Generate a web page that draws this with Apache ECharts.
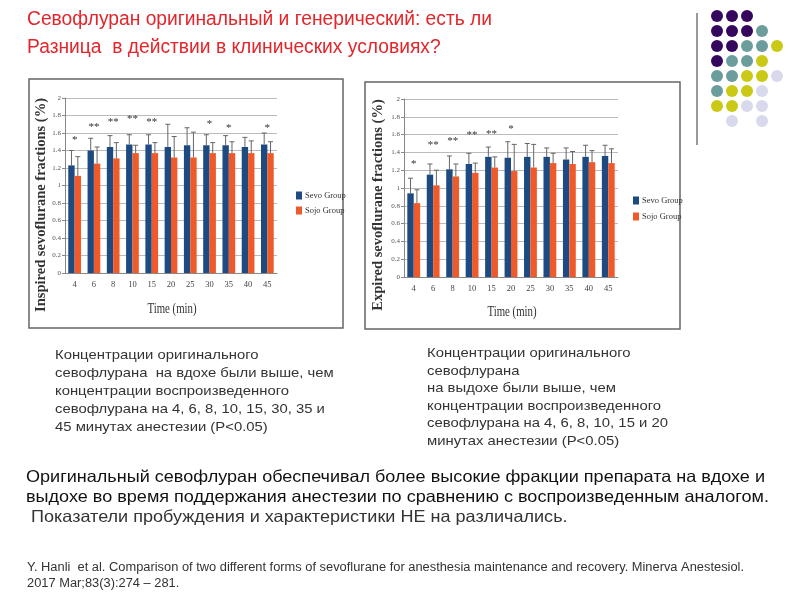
<!DOCTYPE html>
<html><head><meta charset="utf-8">
<script src="https://cdn.jsdelivr.net/npm/echarts@6/dist/echarts.min.js"></script>
<style>html,body{margin:0;padding:0;background:#fff}#c{width:800px;height:600px}</style>
</head><body><div id="c"></div>
<script>
// ---------- data ----------
const categories = ['4','6','8','10','15','20','25','30','35','40','45'];
const seriesNames = ['Sevo Group','Sojo Group'];

const inspSevo    = [1.23,1.40,1.44,1.47,1.47,1.44,1.46,1.46,1.46,1.44,1.47];
const inspSevoErr = [1.40,1.54,1.57,1.58,1.58,1.70,1.66,1.58,1.57,1.55,1.60];
const inspSojo    = [1.11,1.25,1.31,1.37,1.37,1.32,1.32,1.37,1.37,1.37,1.37];
const inspSojoErr = [1.33,1.44,1.49,1.46,1.49,1.56,1.61,1.49,1.50,1.51,1.50];
const inspStarCats = ['4','6','8','10','15','30','35','45'];
const inspStarMarks = ['*','**','**','**','**','*','*','*'];
const inspStarPos = [1.52,1.67,1.73,1.76,1.73,1.70,1.66,1.66];

const expSevo    = [0.94,1.15,1.21,1.27,1.35,1.34,1.35,1.35,1.32,1.35,1.36];
const expSevoErr = [1.11,1.27,1.36,1.39,1.46,1.52,1.50,1.45,1.45,1.48,1.48];
const expSojo    = [0.83,1.03,1.13,1.17,1.23,1.19,1.23,1.28,1.27,1.29,1.28];
const expSojoErr = [0.98,1.20,1.27,1.28,1.35,1.49,1.49,1.39,1.41,1.42,1.44];
const expStarCats = ['4','6','8','10','15','20'];
const expStarMarks = ['*','**','**','**','**','*'];
const expStarPos = [1.27,1.48,1.53,1.59,1.60,1.66];

const titleLines = ['Севофлуран оригинальный и генерический: есть ли','Разница  в действии в клинических условиях?'];
const leftNote = ['Концентрации оригинального','севофлурана  на вдохе были выше, чем','концентрации воспроизведенного','севофлурана на 4, 6, 8, 10, 15, 30, 35 и','45 минутах анестезии (P<0.05)'];
const rightNote = ['Концентрации оригинального','севофлурана','на выдохе были выше, чем','концентрации воспроизведенного','севофлурана на 4, 6, 8, 10, 15 и 20','минутах анестезии (P<0.05)'];
const summary = ['Оригинальный севофлуран обеспечивал более высокие фракции препарата на вдохе и','выдохе во время поддержания анестезии по сравнению с воспроизведенным аналогом.',' Показатели пробуждения и характеристики НЕ на различались.'];
const citation = ['Y. Hanli  et al. Comparison of two different forms of sevoflurane for anesthesia maintenance and recovery. Minerva Anestesiol.','2017 Mar;83(3):274 – 281.'];
const yTitles = ['Inspired sevoflurane fractions (%)','Expired sevoflurane fractions (%)'];
const xTitle = 'Time (min)';
const dotGrid = ['PPP','PPPT','PPTTY','PTTY','TTYYL','TYYL','YYLL','.L.L'];

// ---------- styles ----------
const SEVO = '#1d4a80', SOJO = '#ee5a2a';
const SERIF = '"Liberation Serif", "DejaVu Serif", serif';
const SANS = '"Liberation Sans", Arial, sans-serif';

const cv = document.createElement('canvas').getContext('2d');
function measure(t, font){ cv.font = font; return cv.measureText(t).width; }
function txt(t, x, y, font, fill, sx, extra){
  return Object.assign({type:'text', x:x, y:y, scaleX:sx||1, silent:true, z:10,
    style:{text:t, x:0, y:0, font:font, fill:fill, align:'left', verticalAlign:'middle'}}, extra||{});
}

const graphics = [];
// title
const titleFont = '19.5px ' + SANS;
const tScale = 465 / measure(titleLines[0], titleFont);
graphics.push(txt(titleLines[0], 27, 20, titleFont, '#e3262b', tScale));
graphics.push(txt(titleLines[1], 27, 48, titleFont, '#e3262b', tScale));
// notes
const noteFont = '13.5px ' + SANS;
const nScale = 234 / measure(leftNote[2], noteFont);
[355,373,391,409,427].forEach((y,i)=>graphics.push(txt(leftNote[i], 55, y, noteFont, '#333', nScale)));
[353,371,388,406,423,441].forEach((y,i)=>graphics.push(txt(rightNote[i], 427, y, noteFont, '#333', nScale)));
// summary
const sumFont = '16.5px ' + SANS;
const sScale = 739 / measure(summary[0], sumFont);
graphics.push(txt(summary[0], 26, 477, sumFont, '#111', sScale));
graphics.push(txt(summary[1], 26, 497, sumFont, '#111', sScale));
graphics.push(txt(summary[2], 26, 517, sumFont, '#333', sScale));
// citation
const citFont = '12px ' + SANS;
const cScale = 717 / measure(citation[0], citFont);
graphics.push(txt(citation[0], 27, 568, citFont, '#333', cScale));
graphics.push(txt(citation[1], 27, 584, citFont, '#333', cScale));
// frames
graphics.push({type:'rect', shape:{x:29, y:79, width:314, height:249}, style:{fill:'none', stroke:'#666', lineWidth:1.5}, silent:true});
graphics.push({type:'rect', shape:{x:365, y:82, width:315, height:247}, style:{fill:'none', stroke:'#666', lineWidth:1.5}, silent:true});
// axis titles
const yFont = 'bold 14.5px ' + SERIF;
const yScale = 214 / measure(yTitles[0], yFont);
graphics.push({type:'text', x:41, y:205, rotation:Math.PI/2, scaleX:yScale, silent:true,
  style:{text:yTitles[0], x:0, y:0, font:yFont, fill:'#333', align:'center', verticalAlign:'middle'}});
graphics.push({type:'text', x:378, y:205, rotation:Math.PI/2, scaleX:yScale, silent:true,
  style:{text:yTitles[1], x:0, y:0, font:yFont, fill:'#333', align:'center', verticalAlign:'middle'}});
const xFont = '15px ' + SERIF;
const xScale = 49 / measure(xTitle, xFont);
graphics.push({type:'text', x:172, y:309, scaleX:xScale, silent:true, style:{text:xTitle, x:0, y:0, font:xFont, fill:'#333', align:'center', verticalAlign:'middle'}});
graphics.push({type:'text', x:512, y:312, scaleX:xScale, silent:true, style:{text:xTitle, x:0, y:0, font:xFont, fill:'#333', align:'center', verticalAlign:'middle'}});
// decoration
graphics.push({type:'line', shape:{x1:697, y1:13, x2:697, y2:145}, style:{stroke:'#999', lineWidth:2}, silent:true});
const dotColors = {P:'#35085e', T:'#6b9d9d', Y:'#c9c916', L:'#d9d9ee'};
dotGrid.forEach((row, r)=>{
  row.split('').forEach((c, k)=>{
    if (dotColors[c]) graphics.push({type:'circle', shape:{cx:717 + k*15, cy:16 + r*15, r:6}, style:{fill:dotColors[c]}, silent:true});
  });
});

// ---------- chart ----------
function errSeries(gi, vals, tops, side){
  return {type:'custom', xAxisIndex:gi, yAxisIndex:gi, silent:true, z:5,
    data: vals.map((v,i)=>[i, v, tops[i]]),
    encode:{x:0, y:[1,2]},
    renderItem:function(params, api){
      const band = api.size([1,0])[0];
      const p0 = api.coord([api.value(0), api.value(1)]);
      const p1 = api.coord([api.value(0), api.value(2)]);
      const x = p0[0] + side*band*0.165;
      return {type:'group', children:[
        {type:'line', shape:{x1:x, y1:p0[1], x2:x, y2:p1[1]}, style:{stroke:'#666', lineWidth:1}},
        {type:'line', shape:{x1:x-2.5, y1:p1[1], x2:x+2.5, y2:p1[1]}, style:{stroke:'#666', lineWidth:1}}
      ]};
    }};
}
function starSeries(gi, cats, marks, pos){
  return {type:'custom', xAxisIndex:gi, yAxisIndex:gi, silent:true, z:6,
    data: cats.map((c,i)=>[c, pos[i]]),
    renderItem:function(params, api){
      const p = api.coord([api.value(0), api.value(1)]);
      return {type:'text', x:p[0], y:p[1], style:{text:marks[params.dataIndex], font:'11px ' + SERIF, fill:'#333', align:'center', verticalAlign:'middle'}};
    }};
}
function barSeries(gi, name, data, color){
  return {type:'bar', name:name, xAxisIndex:gi, yAxisIndex:gi, data:data, barGap:'0%', barCategoryGap:'34%', itemStyle:{color:color}};
}

const axisGray = '#888';
const option = {
  animation:false,
  grid:[{left:65, top:98, width:212, height:175},{left:404, top:99, width:214, height:178}],
  xAxis:[0,1].map(i=>({type:'category', gridIndex:i, data:categories,
    axisLine:{lineStyle:{color:axisGray}}, axisTick:{length:4, lineStyle:{color:axisGray}},
    axisLabel:{fontFamily:SERIF, fontSize:8.5, color:'#444', margin:7}})),
  yAxis:[0,1].map(i=>({type:'value', gridIndex:i, min:0, max:2, interval:0.2,
    axisLine:{show:true, lineStyle:{color:axisGray}}, axisTick:{show:true, length:3, lineStyle:{color:axisGray}},
    axisLabel:{fontFamily:SERIF, fontSize:7, color:'#555', margin:4},
    splitLine:{lineStyle:{color:'#bbb'}}})),
  legend:[
    {left:291, top:186, orient:'vertical', data:seriesNames, icon:'rect', itemWidth:6, itemHeight:8, itemGap:6, selectedMode:false,
     textStyle:{fontFamily:SERIF, fontSize:8.5, color:'#333', padding:[0,0,0,-2]}},
    {left:628, top:191, orient:'vertical', data:seriesNames, icon:'rect', itemWidth:6, itemHeight:8, itemGap:7, selectedMode:false,
     textStyle:{fontFamily:SERIF, fontSize:8.5, color:'#333', padding:[0,0,0,-2]}}
  ],
  series:[
    barSeries(0, seriesNames[0], inspSevo, SEVO),
    barSeries(0, seriesNames[1], inspSojo, SOJO),
    barSeries(1, seriesNames[0], expSevo, SEVO),
    barSeries(1, seriesNames[1], expSojo, SOJO),
    errSeries(0, inspSevo, inspSevoErr, -1),
    errSeries(0, inspSojo, inspSojoErr, 1),
    errSeries(1, expSevo, expSevoErr, -1),
    errSeries(1, expSojo, expSojoErr, 1),
    starSeries(0, inspStarCats, inspStarMarks, inspStarPos),
    starSeries(1, expStarCats, expStarMarks, expStarPos)
  ],
  graphic: graphics
};
const chart = echarts.init(document.getElementById('c'), null, {renderer:'canvas'});
chart.setOption(option);
</script>
</body></html>
